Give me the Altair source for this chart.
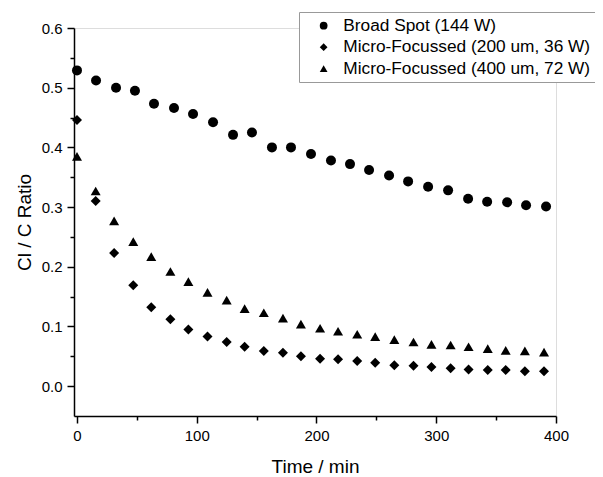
import altair as alt
import pandas as pd

series_names = [
    "Broad Spot (144 W)",
    "Micro-Focussed (200 um, 36 W)",
    "Micro-Focussed (400 um, 72 W)",
]

broad_time = [0, 15.9, 32.6, 48.4, 64.3, 81.0, 96.9, 113.6, 130.3, 146.1, 162.8, 178.7,
              195.4, 212.1, 228.0, 243.9, 260.6, 276.5, 293.2, 309.9, 326.6, 342.5,
              359.2, 375.0, 391.7]
broad_ratio = [0.529, 0.512, 0.500, 0.495, 0.473, 0.466, 0.456, 0.442, 0.421, 0.425,
               0.400, 0.400, 0.389, 0.378, 0.372, 0.362, 0.353, 0.343, 0.334, 0.328,
               0.314, 0.309, 0.308, 0.303, 0.301]

micro_time = [0, 15.6, 31, 47, 62, 78, 93, 109, 125, 140, 156, 172, 187, 203, 218, 234,
              249, 265, 281, 296, 312, 327, 343, 358, 374, 390]
micro200_ratio = [0.446, 0.310, 0.223, 0.169, 0.132, 0.112, 0.095, 0.083, 0.074, 0.066,
                  0.059, 0.056, 0.050, 0.046, 0.045, 0.042, 0.039, 0.035, 0.034, 0.032,
                  0.030, 0.028, 0.027, 0.027, 0.025, 0.025]
micro400_ratio = [0.385, 0.327, 0.277, 0.242, 0.217, 0.192, 0.175, 0.157, 0.144, 0.130,
                  0.123, 0.114, 0.104, 0.097, 0.092, 0.087, 0.083, 0.078, 0.074, 0.070,
                  0.069, 0.066, 0.063, 0.060, 0.059, 0.057]

x_ticks = [0, 50, 100, 150, 200, 250, 300, 350, 400]
y_ticks = [0.0, 0.05, 0.1, 0.15, 0.2, 0.25, 0.3, 0.35, 0.4, 0.45, 0.5, 0.55, 0.6]

rows = []
for t, v in zip(broad_time, broad_ratio):
    rows.append({"time": t, "ratio": v, "series": series_names[0]})
for t, v in zip(micro_time, micro200_ratio):
    rows.append({"time": t, "ratio": v, "series": series_names[1]})
for t, v in zip(micro_time, micro400_ratio):
    rows.append({"time": t, "ratio": v, "series": series_names[2]})
df = pd.DataFrame(rows)

FONT = "Liberation Sans"

x_axis = alt.Axis(
    values=x_ticks,
    labelExpr="datum.value % 100 == 0 ? format(datum.value, 'd') : ''",
    tickSize={"condition": {"test": "datum.value % 100 != 0", "value": 4}, "value": 7},
    grid=False, labelFlush=False, labelOverlap=False,
    domainColor="black", domainWidth=1.5,
    tickColor="black", tickWidth=1.5,
    labelFont=FONT, labelFontSize=15, labelColor="black", labelPadding=5,
    title="Time / min", titleFont=FONT, titleFontSize=19, titleFontWeight="normal",
    titleColor="black", titleX=241, titleY=50, titleBaseline="middle", titleAlign="center",
)
y_axis = alt.Axis(
    values=y_ticks,
    labelExpr="abs(datum.value*10 - round(datum.value*10)) < 0.01 ? format(datum.value, '.1f') : ''",
    tickSize={"condition": {"test": "abs(datum.value*10 - round(datum.value*10)) > 0.01", "value": 4}, "value": 7},
    grid=False, labelFlush=False, labelOverlap=False,
    domainColor="black", domainWidth=1.5,
    tickColor="black", tickWidth=1.5,
    labelFont=FONT, labelFontSize=15, labelColor="black", labelPadding=5,
    title="Cl / C Ratio", titleFont=FONT, titleFontSize=19, titleFontWeight="normal",
    titleColor="black", titleX=-50, titleY=194, titleBaseline="middle", titleAlign="center",
    titleAngle=270,
)

chart = alt.Chart(df).mark_point(filled=True, color="black", size=100, opacity=1).encode(
    x=alt.X("time:Q", scale=alt.Scale(domain=[-2.5, 400], nice=False, zero=False), axis=x_axis),
    y=alt.Y("ratio:Q", scale=alt.Scale(domain=[-0.05, 0.6], nice=False, zero=False), axis=y_axis),
    shape=alt.Shape(
        "series:N",
        scale=alt.Scale(domain=series_names, range=["circle", "diamond", "triangle-up"]),
        legend=alt.Legend(
            title=None, orient="none", legendX=225, legendY=-16,
            labelFont=FONT, labelFontSize=17.3, labelColor="black", labelLimit=400,
            symbolSize=60, symbolFillColor="black", symbolStrokeWidth=0,
            symbolOffset=11, labelOffset=11, padding=5, rowPadding=3.5,
            strokeColor="#999999", fillColor="white",
        ),
    ),
).properties(
    width=482, height=388,
    autosize=alt.AutoSizeParams(type="none"),
    padding={"left": 66, "top": 20, "right": 39, "bottom": 61},
).configure_view(stroke=None).configure(background="white")

chart.save("out.html", embed_options={"renderer": "svg", "actions": False})
